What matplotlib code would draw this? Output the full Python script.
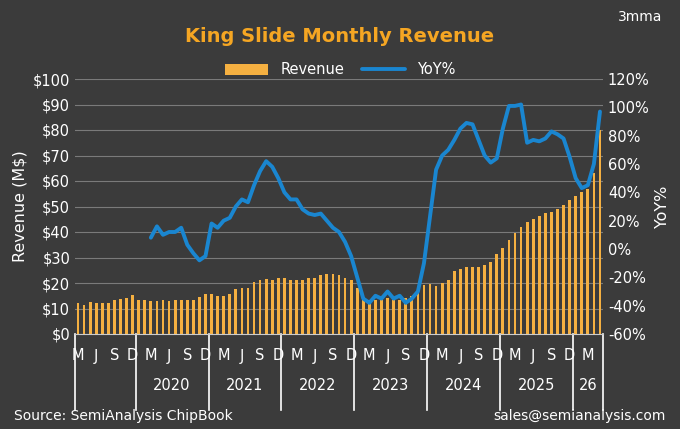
import matplotlib
matplotlib.use("Agg")
import matplotlib.pyplot as plt
import matplotlib.transforms as mtransforms
import numpy as np

# Months: Mar 2019 .. May 2026
start_year, start_month = 2019, 3
revenue = [12.3, 11.4, 12.6, 12.0, 12.2, 12.0, 13.2, 13.9, 14.3, 15.1,
           13.5, 13.2, 13.0, 13.0, 13.5, 13.0, 13.5, 13.5, 13.3, 13.2, 14.5, 15.5,
           15.6, 15.0, 15.0, 15.5, 17.5, 18.0, 18.2, 20.5, 21.0, 21.5, 21.0, 22.0,
           22.0, 21.0, 21.0, 21.0, 22.0, 22.0, 23.0, 23.5, 23.5, 23.0, 22.0, 21.0,
           18.0, 14.5, 13.5, 13.5, 14.0, 14.0, 13.5, 13.5, 14.0, 15.0, 17.0, 19.2,
           19.5, 19.0, 20.0, 21.2, 24.7, 25.5, 26.3, 26.3, 26.3, 27.0, 28.4, 31.4,
           33.6, 36.9, 39.5, 42.0, 43.8, 45.1, 46.4, 47.3, 48.0, 49.0, 50.6, 52.5,
           54.0, 55.5, 57.0, 63.0, 80.0]
yoy = [None] * 12 + [
    8, 16, 10, 12, 12, 15, 3, -3, -8, -5,
    18, 15, 20, 22, 30, 35, 33, 45, 55, 62, 58, 50,
    40, 35, 35, 28, 25, 24, 25, 20, 15, 12, 5, -5,
    -20, -35, -38, -33, -35, -30, -35, -33, -38, -35, -30, -10,
    23, 56, 66, 70, 77, 85, 89, 88, 77, 66, 61, 64,
    85, 101, 101, 102, 75, 77, 76, 78, 83, 81, 78, 65,
    50, 43, 45, 60, 97]
month_letters = {3: "M", 6: "J", 9: "S", 12: "D"}
year_labels = {2020: "2020", 2021: "2021", 2022: "2022", 2023: "2023",
               2024: "2024", 2025: "2025", 2026: "26"}

n = len(revenue)
x = np.arange(n)
months = [((start_month - 1 + i) % 12) + 1 for i in range(n)]
years = [start_year + (start_month - 1 + i) // 12 for i in range(n)]

BG = "#3b3b3b"
FS = 10.5
fig = plt.figure(figsize=(6.8, 4.29), dpi=100, facecolor=BG)
ax = fig.add_axes([75/680, 1-334/429, 528/680, 255/429])
ax.set_facecolor(BG)
ax2 = ax.twinx()

ax.bar(x, revenue, width=0.45, color="#f5b041", zorder=2, label="Revenue")
yv = np.array([np.nan if v is None else v for v in yoy], dtype=float)
ax2.plot(x, yv, color="#1a86d0", lw=2.8, zorder=3, label="YoY%",
         solid_joinstyle="round", solid_capstyle="round")

ax.set_xlim(-0.5, n - 0.5)
ax.set_ylim(0, 100)
ax2.set_ylim(-60, 120)
ax.set_yticks(range(0, 101, 10))
ax.set_yticklabels([f"${v}" for v in range(0, 101, 10)])
ax2.set_yticks(range(-60, 121, 20))
ax2.set_yticklabels([f"{v}%" for v in range(-60, 121, 20)])
ax.grid(axis="y", color="#7a7a7a", lw=0.8, zorder=0)
ax.set_axisbelow(True)
for a in (ax, ax2):
    for s in a.spines.values():
        s.set_visible(False)
    a.tick_params(colors="white", labelsize=FS, length=0)
ax.spines["bottom"].set_visible(True)
ax.spines["bottom"].set_color("#cccccc")
ax.set_xticks([])
ax.set_ylabel("Revenue (M$)", color="white", fontsize=11.5)
ax2.set_ylabel("YoY%", color="white", fontsize=11.5)

tr = mtransforms.blended_transform_factory(ax.transData, fig.transFigure)
for i in range(n):
    if months[i] in month_letters:
        fig.text(i, 1-356/429, month_letters[months[i]],
                 transform=tr, color="white", fontsize=FS, ha="center", va="center")
bounds = [-0.5] + [i - 0.5 for i in range(n) if months[i] == 1] + [n - 0.5]
for b in bounds:
    ax.plot([b, b], [1-334/429, 1-410/429], transform=tr, color="white", lw=1.2, clip_on=False)
for yr, lab in year_labels.items():
    idx = [i for i in range(n) if years[i] == yr]
    if idx:
        fig.text((idx[0] + idx[-1]) / 2, 1-385/429, lab, transform=tr,
                 color="white", fontsize=FS, ha="center", va="center")

fig.text(0.5, 1-36/429, "King Slide Monthly Revenue", color="#f5a623",
         fontsize=14, fontweight="bold", ha="center", va="center")
fig.text(662/680, 1-17/429, "3mma", color="white", fontsize=10, ha="right", va="center")
fig.text(14/680, 1-416/429, "Source: SemiAnalysis ChipBook", color="white",
         fontsize=10, ha="left", va="center")
fig.text(666/680, 1-416/429, "sales@semianalysis.com", color="white",
         fontsize=10, ha="right", va="center")
h1, l1 = ax.get_legend_handles_labels()
h2, l2 = ax2.get_legend_handles_labels()
fig.legend(h1 + h2, l1 + l2, loc="center", bbox_to_anchor=(0.5, 1-70/429), ncol=2,
           frameon=False, labelcolor="white", fontsize=FS, handlelength=3,
           columnspacing=1.2)
fig.savefig("out.png", dpi=100, facecolor=BG)
